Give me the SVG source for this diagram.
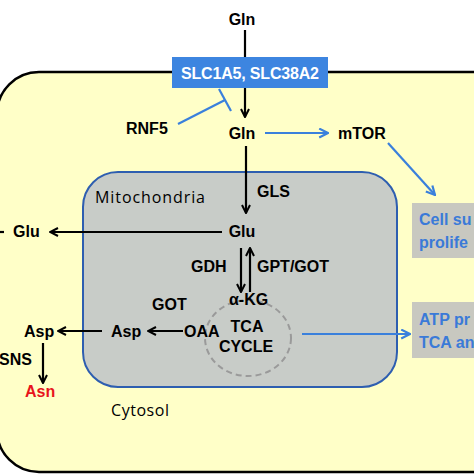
<svg xmlns="http://www.w3.org/2000/svg" width="474" height="474" viewBox="0 0 474 474">
<defs>
<style>
.b{font-family:"Liberation Sans",Arial,sans-serif;font-weight:bold;font-size:16px;fill:#000}
.n{font-family:"Open Sans","Liberation Sans",sans-serif;font-size:16px;fill:#000}
.bl{font-family:"Liberation Sans",Arial,sans-serif;font-weight:bold;font-size:16px;fill:#3a7ad8}
.k{stroke:#000;stroke-width:2.2;fill:none}
.u{stroke:#3a80dc;stroke-width:2.2;fill:none}
</style>
<marker id="ak" viewBox="0 0 10 10" refX="9" refY="5" markerWidth="10" markerHeight="10" markerUnits="userSpaceOnUse" orient="auto">
<path d="M1,1 L9,5 L1,9" fill="none" stroke="#000" stroke-width="2"/>
</marker>
<marker id="au" viewBox="0 0 10 10" refX="9" refY="5" markerWidth="11" markerHeight="11" markerUnits="userSpaceOnUse" orient="auto">
<path d="M1,1 L9,5 L1,9" fill="none" stroke="#3a80dc" stroke-width="2"/>
</marker>
</defs>
<rect width="474" height="474" fill="#fff"/>
<g id="cell"><rect x="-3" y="72" width="520" height="400" rx="42" fill="#ffffc8" stroke="#000" stroke-width="2.5"/></g>
<g id="mito"><rect x="83" y="172" width="314" height="215" rx="35" fill="#c8ccc8" stroke="#2e5eb0" stroke-width="2"/>
<text class="n" x="95" y="203" textLength="110">Mitochondria</text></g>
<g id="tca"><ellipse cx="248" cy="338" rx="43" ry="38" fill="none" stroke="#9a9a9a" stroke-width="2" stroke-dasharray="6,4"/>
<text class="b" x="247" y="332" text-anchor="middle" font-size="14">TCA</text>
<text class="b" x="246" y="352" text-anchor="middle" font-size="14">CYCLE</text></g>
<g id="slc"><rect x="172" y="57" width="156" height="31" fill="#3d85e0"/>
<text class="b" x="250" y="79" text-anchor="middle" fill="#fff" style="fill:#fff" textLength="138">SLC1A5, SLC38A2</text></g>
<g id="cellbox"><rect x="412" y="203" width="70" height="55" fill="#c8c8c0"/>
<text class="bl" x="419" y="225">Cell su</text><text class="bl" x="419" y="248">prolife</text></g>
<g id="atpbox"><rect x="412" y="302" width="70" height="56" fill="#c8c8c0"/>
<text class="bl" x="419" y="325">ATP pr</text><text class="bl" x="419" y="348">TCA an</text></g>
<g id="labels">
<text class="b" x="242" y="25" text-anchor="middle">Gln</text>
<text class="b" x="126" y="134">RNF5</text>
<text class="b" x="242" y="139" text-anchor="middle">Gln</text>
<text class="b" x="338" y="139">mTOR</text>
<text class="b" x="257" y="197">GLS</text>
<text class="b" x="242" y="237" text-anchor="middle">Glu</text>
<text class="b" x="13" y="237">Glu</text>
<text class="b" x="191" y="272">GDH</text>
<text class="b" x="257" y="272">GPT/GOT</text>
<text class="b" x="229" y="305">α-KG</text>
<text class="b" x="152" y="310">GOT</text>
<text class="b" x="184" y="337">OAA</text>
<text class="b" x="111" y="337">Asp</text>
<text class="b" x="24" y="337">Asp</text>
<text class="b" x="-1" y="365">SNS</text>
<text class="b" x="25" y="397" style="fill:#e8141c">Asn</text>
<text class="n" x="111" y="416" textLength="58">Cytosol</text>
</g>
<g id="connectors">
<line class="k" x1="245" y1="30" x2="245" y2="57"/>
<line class="k" x1="245" y1="88" x2="245" y2="117" marker-end="url(#ak)"/>
<line class="k" x1="246" y1="146" x2="246" y2="213" marker-end="url(#ak)"/>
<line class="k" x1="222" y1="232" x2="50" y2="232" marker-end="url(#ak)"/>
<line class="k" x1="0" y1="232" x2="4" y2="232"/>
<line class="k" x1="241" y1="248" x2="241" y2="292" marker-end="url(#ak)"/>
<line class="k" x1="250" y1="292" x2="250" y2="248" marker-end="url(#ak)"/>
<line class="k" x1="183" y1="331" x2="148" y2="331" marker-end="url(#ak)"/>
<line class="k" x1="102" y1="331" x2="58" y2="331" marker-end="url(#ak)"/>
<line class="k" x1="43" y1="343" x2="43" y2="383" marker-end="url(#ak)"/>
<line class="u" x1="265" y1="133" x2="328" y2="133" marker-end="url(#au)"/>
<line class="u" x1="388" y1="143" x2="435" y2="195" marker-end="url(#au)"/>
<line class="u" x1="302" y1="334" x2="410" y2="334" marker-end="url(#au)"/>
<line class="u" x1="178" y1="124" x2="225" y2="100"/>
<line class="u" x1="219" y1="89" x2="231" y2="111"/>
</g>
</svg>
